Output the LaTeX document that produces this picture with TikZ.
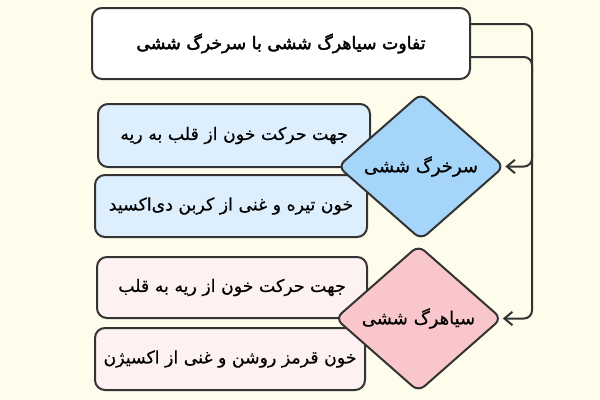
\documentclass[tikz,border=0pt]{standalone}
\usepackage{fontspec}
\newfontfamily\fa[Script=Arabic,FakeBold=0.4]{DejaVu Sans}
\newfontfamily\fatitle[Script=Arabic,FakeBold=2.2]{DejaVu Sans}
\TeXXeTstate=1
\usetikzlibrary{shapes.geometric,arrows.meta}
\definecolor{bg}{HTML}{FEFCEB}
\definecolor{edge}{HTML}{333333}
\definecolor{bluebox}{HTML}{DDEEFC}
\definecolor{bluedia}{HTML}{A6D5FA}
\definecolor{pinkbox}{HTML}{FDF1F1}
\definecolor{pinkdia}{HTML}{F9C7CB}
\tikzset{
  box/.style={draw=edge, line width=1.5pt, rounded corners=7.5pt, inner sep=0pt,
    font=\fa\fontsize{13}{15}\selectfont, text=black},
  dia/.style={shape=diamond, draw=edge, line width=1.5pt, rounded corners=6pt,
    inner sep=0pt, minimum width=125pt, minimum height=110pt,
    font=\fa\fontsize{13.5}{16}\selectfont, text=black},
  conn/.style={draw=edge, line width=1.5pt, rounded corners=6pt,
    -{Straight Barb[length=6pt,width=10pt,line width=1.5pt]}}
}
\begin{document}
\begin{tikzpicture}[x=0.75pt,y=-0.75pt]
\fill[bg] (0,0) rectangle (600,400);
\useasboundingbox (0,0) rectangle (600,400);
% title
\node[box, fill=white, minimum width=283.5pt, minimum height=53.25pt,
  font=\fatitle\fontsize{13}{15}\selectfont] (title) at (281,43.5)
  {\beginR تفاوت سیاهرگ ششی با سرخرگ ششی\endR};
% blue group
\node[box, fill=bluebox, minimum width=204pt, minimum height=47.25pt] (b1) at (234,135.5)
  {\beginR جهت حرکت خون از قلب به ریه\endR};
\node[box, fill=bluebox, minimum width=204pt, minimum height=46.5pt] (b2) at (231,206)
  {\beginR خون تیره و غنی از کربن دی‌اکسید\endR};
\node[dia, fill=bluedia] (d1) at (421,166.5) {\beginR سرخرگ ششی\endR};
% pink group
\node[box, fill=pinkbox, minimum width=202.5pt, minimum height=45.75pt] (p1) at (232,287.5)
  {\beginR جهت حرکت خون از ریه به قلب\endR};
\node[box, fill=pinkbox, minimum width=202.5pt, minimum height=46.5pt] (p2) at (230,359)
  {\beginR خون قرمز روشن و غنی از اکسیژن\endR};
\node[dia, fill=pinkdia] (d2) at (418.5,318.5) {\beginR سیاهرگ ششی\endR};
% connectors
\coordinate (t1) at (title.east |- 0,24);
\coordinate (t2) at (title.east |- 0,57);
\draw[conn] (t1) -- (532,24) |- (d2.east);
\draw[conn] (t2) -- (532,57) |- (d1.east);
\end{tikzpicture}
\end{document}
